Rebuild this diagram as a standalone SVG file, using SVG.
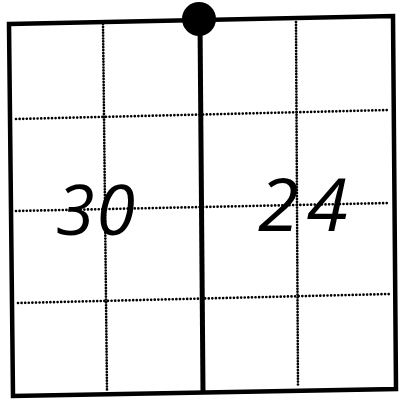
<svg xmlns="http://www.w3.org/2000/svg" width="401" height="400" viewBox="0 0 401 400">
<style>
.border{fill:none;stroke:#000;stroke-width:4.5;stroke-linejoin:miter}
.dh{fill:none;stroke:#000;stroke-width:2.7;stroke-linecap:round;stroke-dasharray:0 3.6}
.dv{fill:none;stroke:#000;stroke-width:2.7;stroke-linecap:round;stroke-dasharray:0 2.9}
.num{font-family:"Open Sans","Liberation Sans",sans-serif;font-weight:400;font-style:italic;fill:#000}
</style>
<rect width="401" height="400" fill="#fff"/>
<g id="grid">
<path class="dv" d="M103,24 L107,390"/>
<path class="dv" d="M296,22 L298,386"/>
<path class="dh" d="M16,119 L390,110"/>
<path class="dh" d="M16,211 L390,203"/>
<path class="dh" d="M18,303 L390,294"/>
</g>
<g id="frame">
<polygon class="border" points="9,24 393,16 396,389 13,396"/>
<line x1="200" y1="20" x2="203" y2="392" stroke="#000" stroke-width="5"/>
<circle cx="199" cy="19" r="17" fill="#000"/>
</g>
<g id="left-label"><text class="num" x="56" y="235" font-size="70" letter-spacing="2">30</text></g>
<g id="right-label"><text class="num" x="258" y="231" font-size="74" letter-spacing="8">24</text></g>
</svg>
